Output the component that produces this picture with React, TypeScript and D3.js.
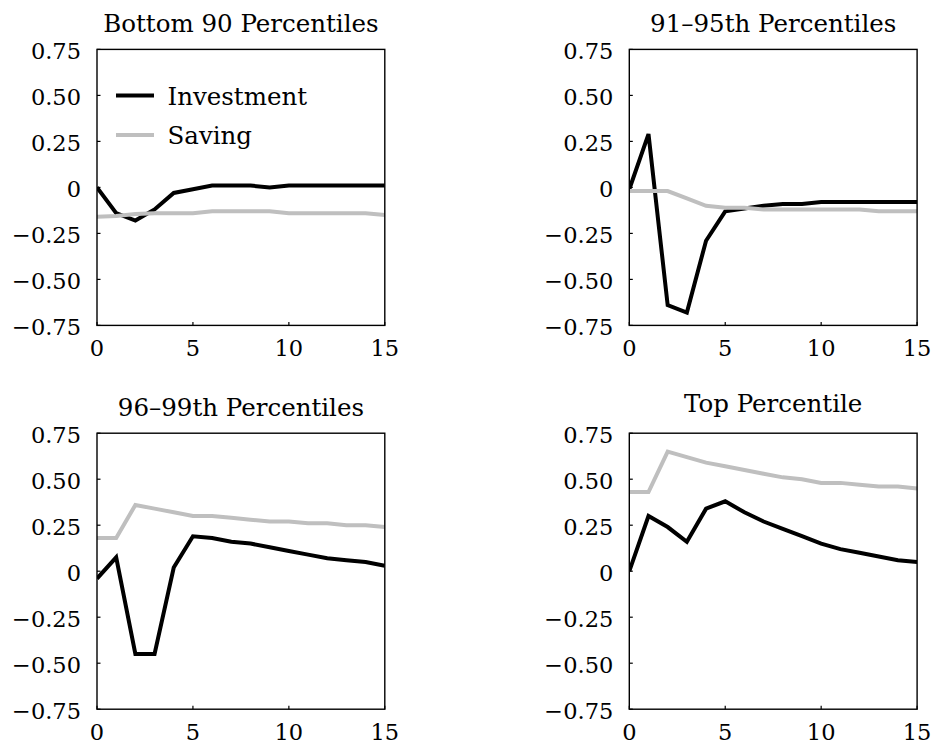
import React from "react";
import * as d3 from "d3";

const periods = [0, 1, 2, 3, 4, 5, 6, 7, 8, 9, 10, 11, 12, 13, 14, 15];

const panelTitles = [
  "Bottom 90 Percentiles",
  "91–95th Percentiles",
  "96–99th Percentiles",
  "Top Percentile",
];

const bottom90Investment = [0, -0.14, -0.18, -0.12, -0.03, -0.01, 0.01, 0.01, 0.01, 0.0, 0.01, 0.01, 0.01, 0.01, 0.01, 0.01];
const bottom90Saving = [-0.16, -0.155, -0.145, -0.14, -0.14, -0.14, -0.13, -0.13, -0.13, -0.13, -0.14, -0.14, -0.14, -0.14, -0.14, -0.15];

const p9195Investment = [-0.01, 0.29, -0.64, -0.68, -0.29, -0.13, -0.115, -0.1, -0.09, -0.09, -0.08, -0.08, -0.08, -0.08, -0.08, -0.08];
const p9195Saving = [-0.02, -0.02, -0.02, -0.06, -0.1, -0.11, -0.11, -0.12, -0.12, -0.12, -0.12, -0.12, -0.12, -0.13, -0.13, -0.13];

const p9699Investment = [-0.04, 0.075, -0.45, -0.45, 0.02, 0.19, 0.18, 0.16, 0.15, 0.13, 0.11, 0.09, 0.07, 0.06, 0.05, 0.03];
const p9699Saving = [0.18, 0.18, 0.36, 0.34, 0.32, 0.3, 0.3, 0.29, 0.28, 0.27, 0.27, 0.26, 0.26, 0.25, 0.25, 0.24];

const topInvestment = [0, 0.3, 0.24, 0.16, 0.34, 0.38, 0.32, 0.27, 0.23, 0.19, 0.15, 0.12, 0.1, 0.08, 0.06, 0.05];
const topSaving = [0.43, 0.43, 0.65, 0.62, 0.59, 0.57, 0.55, 0.53, 0.51, 0.5, 0.48, 0.48, 0.47, 0.46, 0.46, 0.45];

const investmentSeries = [bottom90Investment, p9195Investment, p9699Investment, topInvestment];
const savingSeries = [bottom90Saving, p9195Saving, p9699Saving, topSaving];

const seriesNames = ["Investment", "Saving"];
const yTicks = [-0.75, -0.5, -0.25, 0, 0.25, 0.5, 0.75];
const xTicks = [0, 5, 10, 15];

const W = 933;
const H = 745;
const FONT = "DejaVu Serif";
const INV_COLOR = "#000000";
const SAV_COLOR = "#bfbfbf";

const colLeft = [97, 629.3];
const rowTop = [49.4, 433.2];
const plotW = 287.8;
const plotH = 276;

function fmtY(v: number): string {
  if (v === 0) return "0";
  const s = Math.abs(v).toFixed(2);
  return (v < 0 ? "\u2212" : "") + s;
}

const textStyle = (size: number, spacing: number): React.CSSProperties => ({
  fontFamily: FONT,
  fontSize: `${size}px`,
  letterSpacing: `${spacing}px`,
});

function Panel({ idx }: { idx: number }) {
  const left = colLeft[idx % 2];
  const top = rowTop[Math.floor(idx / 2)];
  const x = d3.scaleLinear().domain([0, 15]).range([left, left + plotW]);
  const y = d3.scaleLinear().domain([-0.75, 0.75]).range([top + plotH, top]);
  const line = d3
    .line<number>()
    .x((_, i) => x(periods[i]))
    .y((d) => y(d));
  const title = panelTitles[idx];
  const titleGap = /[gjpqy]/.test(title) ? 21 : 17;
  const clipId = `clip-${idx}`;
  return (
    <g>
      <defs>
        <clipPath id={clipId}>
          <rect x={left} y={top} width={plotW} height={plotH} />
        </clipPath>
      </defs>
      <text
        x={left + plotW / 2}
        y={top - titleGap}
        textAnchor="middle"
        style={textStyle(24.5, 0)}
        fill="#000"
      >
        {title}
      </text>
      <g clipPath={`url(#${clipId})`}>
        <path d={line(investmentSeries[idx]) || ""} fill="none" stroke={INV_COLOR} strokeWidth={4} strokeLinejoin="miter" />
        <path d={line(savingSeries[idx]) || ""} fill="none" stroke={SAV_COLOR} strokeWidth={4} strokeLinejoin="miter" />
      </g>
      {yTicks.map((t) => (
        <g key={`y${t}`}>
          <line x1={left} x2={left + 3.5} y1={y(t)} y2={y(t)} stroke="#000" strokeWidth={1.2} />
          <text
            x={left - 16}
            y={y(t) + 10}
            textAnchor="end"
            style={textStyle(22.5, 0)}
            fill="#000"
          >
            {fmtY(t)}
          </text>
        </g>
      ))}
      {xTicks.map((t) => (
        <g key={`x${t}`}>
          <line x1={x(t)} x2={x(t)} y1={top + plotH} y2={top + plotH - 3.5} stroke="#000" strokeWidth={1.2} />
          <text
            x={x(t)}
            y={top + plotH + 31}
            textAnchor="middle"
            style={textStyle(22.5, 0)}
            fill="#000"
          >
            {String(t)}
          </text>
        </g>
      ))}
      <rect x={left} y={top} width={plotW} height={plotH} fill="none" stroke="#000" strokeWidth={1.4} />
      {idx === 0 && (
        <g>
          {seriesNames.map((name, i) => (
            <g key={name}>
              <line
                x1={left + 19}
                x2={left + 57}
                y1={y(0.5) + i * 39.5}
                y2={y(0.5) + i * 39.5}
                stroke={i === 0 ? INV_COLOR : SAV_COLOR}
                strokeWidth={4}
              />
              <text
                x={left + 70.5}
                y={y(0.5) + i * 39.5 + 9.5}
                style={textStyle(24.5, 0)}
                fill="#000"
              >
                {name}
              </text>
            </g>
          ))}
        </g>
      )}
    </g>
  );
}

export default function App() {
  return (
    <svg
      width={W}
      height={H}
      viewBox={`0 0 ${W} ${H}`}
      style={{ position: "absolute", left: 0, top: 0, background: "#fff" }}
    >
      <rect x={0} y={0} width={W} height={H} fill="#fff" />
      {[0, 1, 2, 3].map((i) => (
        <Panel key={i} idx={i} />
      ))}
    </svg>
  );
}
